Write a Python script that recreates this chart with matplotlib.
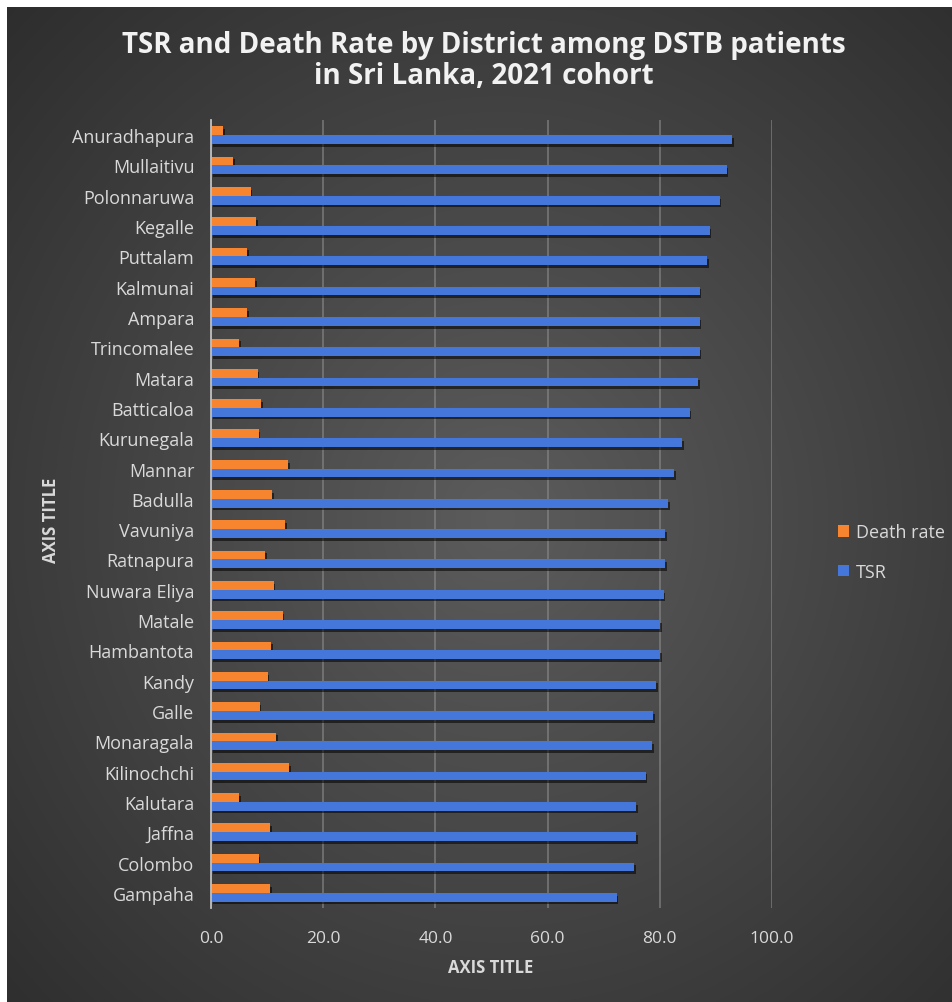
import numpy as np
import matplotlib.pyplot as plt
import matplotlib.patheffects as pe
from matplotlib.patches import Patch

districts = ["Anuradhapura", "Mullaitivu", "Polonnaruwa", "Kegalle", "Puttalam",
             "Kalmunai", "Ampara", "Trincomalee", "Matara", "Batticaloa",
             "Kurunegala", "Mannar", "Badulla", "Vavuniya", "Ratnapura",
             "Nuwara Eliya", "Matale", "Hambantota", "Kandy", "Galle",
             "Monaragala", "Kilinochchi", "Kalutara", "Jaffna", "Colombo",
             "Gampaha"]
tsr = [92.9, 91.9, 90.7, 88.9, 88.4, 87.1, 87.1, 87.1, 86.8, 85.3,
       84.0, 82.6, 81.5, 80.9, 80.9, 80.7, 80.1, 80.1, 79.3, 78.8,
       78.6, 77.5, 75.8, 75.8, 75.4, 72.3]
death_rate = [2.2, 3.9, 7.1, 8.1, 6.4, 7.9, 6.4, 5.0, 8.3, 8.9,
              8.5, 13.7, 10.9, 13.2, 9.6, 11.2, 12.8, 10.7, 10.1, 8.7,
              11.6, 13.9, 5.0, 10.6, 8.5, 10.6]
x_ticks = [0, 20, 40, 60, 80, 100]

ORANGE = "#F7842F"
BLUE = "#4577DB"
TEXT = "#D9D9D9"
FONT = ["Open Sans", "DejaVu Sans"]

W, H = 953, 1003
fig = plt.figure(figsize=(W / 100, H / 100), dpi=100)

# dark radial background with a thin white margin at top and left
bg = fig.add_axes([0, 0, 1, 1], zorder=-10)
yy, xx = np.mgrid[0:H, 0:W]
r = np.hypot((xx - 500) / W, (yy - 520) / H)
val = np.clip(92 - 64 * r, 40, 100) / 255.0
img = np.dstack([val, val, val])
img[:8, :, :] = 1.0
img[:, :7, :] = 1.0
bg.imshow(img, aspect="auto", extent=[0, W, H, 0], interpolation="bilinear")
bg.set_axis_off()

ax = fig.add_axes([211 / W, (H - 909) / H, (772 - 211) / W, (909 - 121) / H])
ax.set_facecolor("none")

n = len(districts)
y = np.arange(n)
bh = 0.29
shadow = [pe.SimplePatchShadow(offset=(1.2, -2.0), shadow_rgbFace="black", alpha=0.55),
          pe.Normal()]
b1 = ax.barh(y - bh / 2, death_rate, height=bh, color=ORANGE, zorder=3)
b2 = ax.barh(y + bh / 2, tsr, height=bh, color=BLUE, zorder=3)
for bar in list(b1) + list(b2):
    bar.set_path_effects(shadow)

ax.set_ylim(n - 0.5, -0.5)
ax.set_xlim(0, 100)
ax.set_xticks(x_ticks)
ax.set_xticklabels([f"{v:.1f}" for v in x_ticks], fontsize=12.5, color=TEXT, family=FONT)
ax.set_yticks(y)
ax.set_yticklabels(districts, fontsize=13, color=TEXT, family=FONT)
ax.tick_params(axis="both", length=0)
ax.tick_params(axis="x", pad=16)
ax.tick_params(axis="y", pad=12)

ax.grid(axis="x", color="#8A8A8A", linewidth=1.2, alpha=0.7, zorder=0)
ax.grid(axis="y", visible=False)
for side in ["top", "right", "bottom"]:
    ax.spines[side].set_visible(False)
ax.spines["left"].set_color("#BFBFBF")
ax.spines["left"].set_linewidth(1.3)
ax.spines["left"].set_zorder(4)

fig.text(491 / W, 1 - 968 / H, "AXIS TITLE", ha="center", va="center",
         fontsize=12, fontweight="bold", color=TEXT, family=FONT)
fig.text(51 / W, 1 - 520 / H, "AXIS TITLE", ha="center", va="center", rotation=90,
         fontsize=12, fontweight="bold", color=TEXT, family=FONT)

fig.text(484 / W, 1 - 45 / H, "TSR and Death Rate by District among DSTB patients",
         ha="center", va="center", fontsize=20, fontweight="bold", color="#F2F2F2",
         family=FONT)
fig.text(484 / W, 1 - 77 / H, "in Sri Lanka, 2021 cohort",
         ha="center", va="center", fontsize=20, fontweight="bold", color="#F2F2F2",
         family=FONT)

handles = [Patch(facecolor=ORANGE, label="Death rate"), Patch(facecolor=BLUE, label="TSR")]
leg = fig.legend(handles=handles, loc="center left", bbox_to_anchor=(822 / W, 1 - 553 / H),
                 frameon=False, handlelength=0.6, handleheight=0.6, handletextpad=0.4,
                 labelspacing=1.2, prop={"family": FONT, "size": 13})
for t in leg.get_texts():
    t.set_color(TEXT)

fig.savefig("out.png", dpi=100)
